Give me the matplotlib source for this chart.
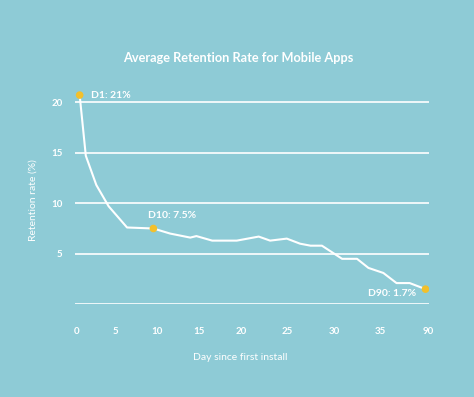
import matplotlib
matplotlib.use("Agg")
import matplotlib.pyplot as plt

plt.rcParams['font.family'] = ['Lato', 'DejaVu Sans']

# Data (x = position along the (non-linear) day axis, y = retention %)
x_pos = [0.3, 1.0, 2.2, 3.6, 5.7, 8.7, 10.6, 12.9, 13.6, 15.4, 18.2, 20.7, 22.0,
         23.9, 25.4, 26.6, 27.9, 30.2, 31.9, 33.2, 34.9, 36.4, 37.9, 39.7]
retention = [20.7, 14.7, 11.8, 9.7, 7.6, 7.5, 7.0, 6.6, 6.75, 6.3, 6.3, 6.7, 6.3,
             6.5, 6.0, 5.8, 5.8, 4.5, 4.5, 3.6, 3.1, 2.1, 2.1, 1.5]
x_tick_pos = [0, 4.4, 9.1, 13.9, 18.7, 24.0, 29.3, 34.5, 40]
x_tick_labels = ["0", "5", "10", "15", "20", "25", "30", "35", "90"]
y_ticks = [5, 10, 15, 20]
highlight_idx = [0, 5, 23]
highlight_labels = ["D1: 21%", "D10: 7.5%", "D90: 1.7%"]

bg = "#8ecbd6"
gold = "#f2c02b"

fig = plt.figure(figsize=(4.74, 3.97), dpi=100, facecolor=bg)
ax = fig.add_axes([75/474, (397-304.3)/397, (429-75)/474, (304.3-87)/397])
ax.set_facecolor(bg)
for s in ax.spines.values():
    s.set_visible(False)

for g in [0] + y_ticks:
    ax.axhline(g, color="white", lw=1.2, zorder=1)

ax.plot(x_pos, retention, color="white", lw=1.5, zorder=2)
ax.scatter([x_pos[i] for i in highlight_idx], [retention[i] for i in highlight_idx],
           s=30, color=gold, zorder=3, edgecolors="none")

ax.set_xlim(-0.23, 40.1)
ax.set_ylim(0, 21.5)
ax.set_xticks(x_tick_pos)
ax.set_xticklabels(x_tick_labels)
ax.set_yticks(y_ticks)
ax.tick_params(length=0, colors="white", labelsize=7)
ax.tick_params(axis="x", pad=16)
ax.tick_params(axis="y", pad=9)
for lbl in ax.get_xticklabels() + ax.get_yticklabels():
    lbl.set_fontweight("bold")

ax.annotate(highlight_labels[0], (x_pos[0], retention[0]), xytext=(8, 0),
            textcoords="offset points", ha="left", va="center", color="white",
            fontsize=7.5, fontweight="bold")
ax.annotate(highlight_labels[1], (x_pos[5], retention[5]), xytext=(-4, 6),
            textcoords="offset points", ha="left", va="bottom", color="white",
            fontsize=7.5, fontweight="bold")
ax.annotate(highlight_labels[2], (x_pos[23], retention[23]), xytext=(-7, -3),
            textcoords="offset points", ha="right", va="center", color="white",
            fontsize=7.5, fontweight="bold")

fig.text(238/474, 1 - 58/397, "Average Retention Rate for Mobile Apps", ha="center",
         va="center", color="white", fontsize=9.2, fontweight="bold")
fig.text(240/474, 1 - 358/397, "Day since first install", ha="center", va="center",
         color="white", fontsize=7.5)
fig.text(33/474, 1 - 200/397, "Retention rate (%)", ha="center", va="center",
         rotation=90, color="white", fontsize=7.5)

fig.savefig("out.png", dpi=100, facecolor=bg)
